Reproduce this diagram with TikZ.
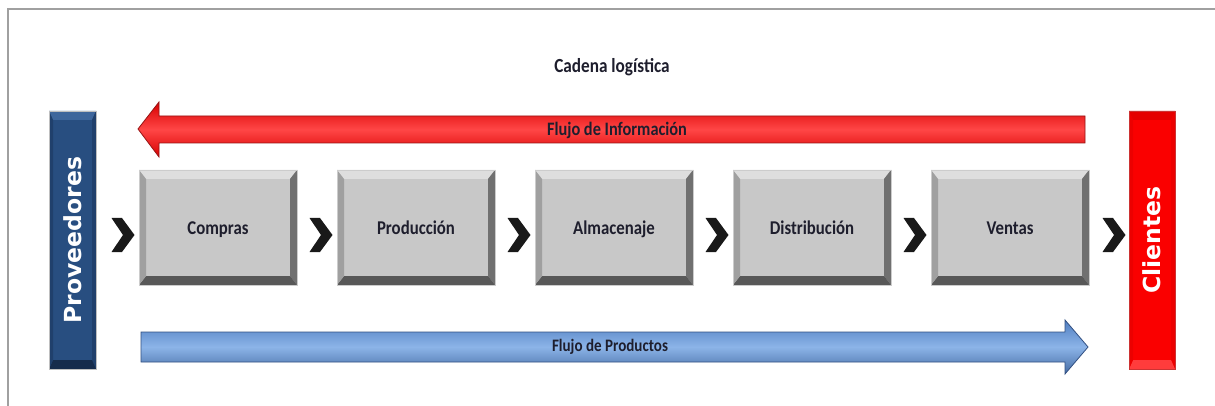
\documentclass[tikz,border=0pt]{standalone}
\usepackage{fontspec}
\newfontfamily\labfont[FakeStretch=0.86]{Carlito}
\newfontfamily\barfont{DejaVu Sans}
\definecolor{frameGray}{RGB}{160,160,160}
\definecolor{boxFace}{RGB}{200,200,200}
\definecolor{boxTop}{RGB}{222,222,222}
\definecolor{boxLeft}{RGB}{160,160,160}
\definecolor{boxRight}{RGB}{112,112,112}
\definecolor{boxBottom}{RGB}{88,88,88}
\definecolor{provFace}{RGB}{40,78,128}
\definecolor{provTop}{RGB}{62,102,156}
\definecolor{provSide}{RGB}{32,64,108}
\definecolor{provBottom}{RGB}{22,44,76}
\definecolor{cliFace}{RGB}{250,0,0}
\definecolor{cliTop}{RGB}{228,0,0}
\definecolor{cliSide}{RGB}{236,0,0}
\definecolor{cliBottom}{RGB}{255,60,60}
\definecolor{redDark}{RGB}{215,0,0}
\definecolor{redLight}{RGB}{255,70,70}
\definecolor{redEdge}{RGB}{150,20,20}
\definecolor{blueTop}{RGB}{80,126,192}
\definecolor{blueLight}{RGB}{140,180,232}
\definecolor{blueEdge}{RGB}{50,80,130}
\definecolor{txtDark}{RGB}{30,30,45}
\newcommand\bevelpaint[6]{%
  \coordinate (bA) at (path picture bounding box.north west);
  \coordinate (bB) at (path picture bounding box.north east);
  \coordinate (bC) at (path picture bounding box.south east);
  \coordinate (bD) at (path picture bounding box.south west);
  \fill[#1] (bA) -- (bB) -- ([shift={(-#5,-#6)}]bB) -- ([shift={(#5,-#6)}]bA) -- cycle;
  \fill[#3] (bB) -- (bC) -- ([shift={(-#5,#6)}]bC) -- ([shift={(-#5,-#6)}]bB) -- cycle;
  \fill[#4] (bC) -- (bD) -- ([shift={(#5,#6)}]bD) -- ([shift={(-#5,#6)}]bC) -- cycle;
  \fill[#2] (bD) -- (bA) -- ([shift={(#5,-#6)}]bA) -- ([shift={(#5,#6)}]bD) -- cycle;
}
\tikzset{
  graybox/.style={fill=boxFace, draw=gray!40, line width=0.6pt, inner sep=0pt,
    minimum width=158pt, minimum height=115pt, text=txtDark,
    text height=17pt, text depth=4pt,
    font=\labfont\bfseries\fontsize{19.5}{22}\selectfont,
    path picture={\bevelpaint{boxTop}{boxLeft}{boxRight}{boxBottom}{7pt}{9pt}}},
  provbar/.style={fill=provFace, draw=gray!50, line width=0.6pt, inner sep=0pt,
    minimum width=47pt, minimum height=258pt,
    path picture={\bevelpaint{provTop}{provSide}{provSide}{provBottom}{4pt}{9pt}}},
  clibar/.style={fill=cliFace, draw=red!60!gray, line width=0.6pt, inner sep=0pt,
    minimum width=46pt, minimum height=258pt,
    path picture={\bevelpaint{cliTop}{cliSide}{cliSide}{cliBottom}{4pt}{9pt}}},
  barlabel/.style={text=white, font=\barfont\bfseries\fontsize{23.5}{26}\selectfont, inner sep=0pt},
  flowlabel/.style={text=txtDark, inner sep=0pt},
  titlelabel/.style={text=txtDark, font=\labfont\bfseries\fontsize{20}{22}\selectfont, inner sep=0pt},
  chev/.pic={\fill[black!90] (-11.5pt,-17pt) -- (-1pt,-17pt) -- (11.5pt,0pt) -- (-1pt,17pt) -- (-11.5pt,17pt) -- (0pt,0pt) -- cycle;}
}
\begin{document}
\begin{tikzpicture}[x=1pt,y=-1pt]
\useasboundingbox (0,0) rectangle (1215,406);
\fill[white] (0,0) rectangle (1215,406);
% frame
\draw[frameGray, line width=2pt] (8,406) -- (8,9) -- (1215,9);
% title
\node[titlelabel] (title) at (612,67) {Cadena logística};
% side bars
\node[provbar] (prov) at (72.5,240) {};
\node[barlabel, rotate=90] (provlabel) at (prov.center) {Proveedores};
\node[clibar] (cli) at (1152,240) {};
\node[barlabel, rotate=90] (clilabel) at (cli.center) {Clientes};
% process boxes
\node[graybox] (compras) at (218,227.5) {Compras};
\node[graybox] (produccion) at (416,227.5) {Producción};
\node[graybox] (almacenaje) at (614,227.5) {Almacenaje};
\node[graybox] (distribucion) at (812,227.5) {Distribución};
\node[graybox] (ventas) at (1010,227.5) {Ventas};
% chevrons
\pic at (123,235) {chev};
\pic at (321,235) {chev};
\pic at (519,235) {chev};
\pic at (717,235) {chev};
\pic at (915,235) {chev};
\pic at (1114,235) {chev};
% information flow arrow (red, leftwards)
\path[draw=redEdge, line width=0.8pt, top color=redDark, bottom color=redDark, middle color=redLight]
  (138,129) -- (159,102) -- (159,116) -- (1085,116) -- (1085,143) -- (159,143) -- (159,157) -- cycle;
\node[flowlabel, font=\labfont\bfseries\fontsize{19}{21}\selectfont] (infolabel) at (617,130) {Flujo de Información};
% product flow arrow (blue, rightwards)
\path[draw=blueEdge, line width=0.8pt, top color=blueTop, bottom color=blueTop!85!black, middle color=blueLight]
  (141,332) -- (1065,332) -- (1065,320) -- (1088,347) -- (1065,374) -- (1065,362) -- (141,362) -- cycle;
\node[flowlabel, font=\labfont\bfseries\fontsize{17.5}{20}\selectfont] (prodlabel) at (610,347) {Flujo de Productos};
\end{tikzpicture}
\end{document}
